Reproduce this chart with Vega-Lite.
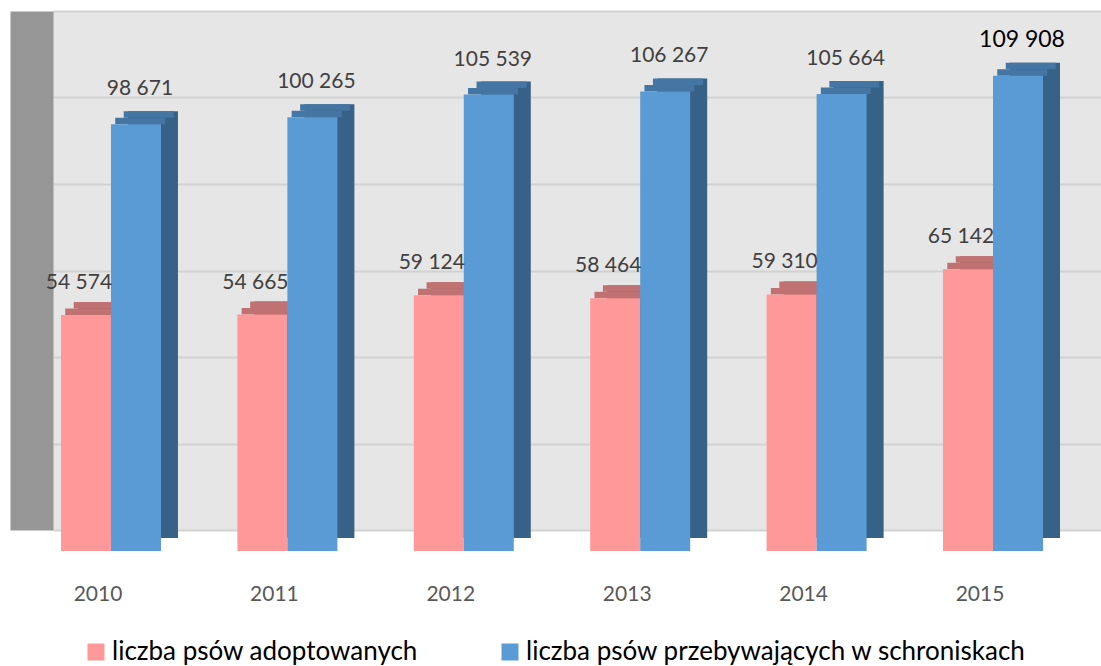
{
  "$schema": "https://vega.github.io/schema/vega-lite/v6.json",
  "width": 1048,
  "height": 519,
  "autosize": {"type": "none"},
  "padding": {"left": 53, "top": 11, "right": 0, "bottom": 136},
  "background": "white",
  "config": {
    "locale": {"number": {"decimal": ",", "thousands": " ", "grouping": [3], "currency": ["", " zł"]}},
    "view": {"fill": "#e6e6e6", "stroke": null},
    "font": "Lato"
  },
  "data": {
    "values": [
      {"year": "2010", "series": "liczba psów adoptowanych", "value": 54574},
      {"year": "2010", "series": "liczba psów przebywających w schroniskach", "value": 98671},
      {"year": "2011", "series": "liczba psów adoptowanych", "value": 54665},
      {"year": "2011", "series": "liczba psów przebywających w schroniskach", "value": 100265},
      {"year": "2012", "series": "liczba psów adoptowanych", "value": 59124},
      {"year": "2012", "series": "liczba psów przebywających w schroniskach", "value": 105539},
      {"year": "2013", "series": "liczba psów adoptowanych", "value": 58464},
      {"year": "2013", "series": "liczba psów przebywających w schroniskach", "value": 106267},
      {"year": "2014", "series": "liczba psów adoptowanych", "value": 59310},
      {"year": "2014", "series": "liczba psów przebywających w schroniskach", "value": 105664},
      {"year": "2015", "series": "liczba psów adoptowanych", "value": 65142},
      {"year": "2015", "series": "liczba psów przebywających w schroniskach", "value": 109908}
    ]
  },
  "encoding": {
    "x": {
      "field": "year", "type": "nominal",
      "scale": {"paddingInner": 0.4331, "paddingOuter": 0.187, "align": 0.121},
      "axis": {"title": null, "domain": false, "ticks": false, "grid": false, "labelAngle": 0, "labelFontSize": 21, "labelColor": "#595959", "labelPadding": 70, "labelBaseline": "alphabetic", "labelOffset": -13}
    },
    "y": {
      "field": "value", "type": "quantitative",
      "scale": {"domain": [0, 120000], "nice": false},
      "axis": {"title": null, "labels": false, "ticks": false, "values": [0, 20000, 40000, 60000, 80000, 100000, 120000], "grid": true, "gridColor": "#d2d2d2", "gridWidth": 2, "domain": true, "domainColor": "#969696", "domainWidth": 43, "offset": 21.5}
    }
  },
  "resolve": {"scale": {"xOffset": "independent"}},
  "layer": [
    {
      "mark": {"type": "bar", "yOffset": 8, "y2Offset": 14},
      "encoding": {
        "xOffset": {"field": "series", "type": "nominal", "sort": ["liczba psów adoptowanych", "liczba psów przebywających w schroniskach"], "scale": {"range": [17, 117], "paddingInner": 0, "paddingOuter": 0}},
        "color": {"condition": {"test": "datum.series === 'liczba psów adoptowanych'", "value": "#a05c5c"}, "value": "#386187"}
      }
    },
    {
      "mark": {"type": "bar", "yOffset": 8, "y2Offset": 14.5},
      "encoding": {
        "xOffset": {"field": "series", "type": "nominal", "sort": ["liczba psów adoptowanych", "liczba psów przebywających w schroniskach"], "scale": {"range": [12.75, 112.75], "paddingInner": 0, "paddingOuter": 0}},
        "y2": {"field": "value"},
        "color": {"condition": {"test": "datum.series === 'liczba psów adoptowanych'", "value": "#c07272"}, "value": "#4475a3"}
      }
    },
    {
      "mark": {"type": "bar", "yOffset": 14.5, "y2Offset": 21},
      "encoding": {
        "xOffset": {"field": "series", "type": "nominal", "sort": ["liczba psów adoptowanych", "liczba psów przebywających w schroniskach"], "scale": {"range": [4.25, 104.25], "paddingInner": 0, "paddingOuter": 0}},
        "y2": {"field": "value"},
        "color": {"condition": {"test": "datum.series === 'liczba psów adoptowanych'", "value": "#c07272"}, "value": "#4475a3"}
      }
    },
    {
      "mark": {"type": "bar", "yOffset": 21, "y2Offset": 21},
      "encoding": {
        "xOffset": {"field": "series", "type": "nominal", "sort": ["liczba psów adoptowanych", "liczba psów przebywających w schroniskach"], "scale": {"range": [0, 100], "paddingInner": 0, "paddingOuter": 0}},
        "color": {
          "field": "series", "type": "nominal",
          "sort": ["liczba psów adoptowanych", "liczba psów przebywających w schroniskach"],
          "scale": {"domain": ["liczba psów adoptowanych", "liczba psów przebywających w schroniskach"], "range": ["#ff9999", "#5b9bd5"]},
          "legend": {"orient": "none", "legendX": 30, "legendY": 628, "direction": "horizontal", "title": null, "symbolType": "square", "symbolSize": 289, "symbolStrokeWidth": 0, "symbolOpacity": 1, "labelFontSize": 26, "labelColor": "#000000", "labelOffset": 3, "columnPadding": 79, "labelLimit": 700, "padding": 0}
        }
      }
    },
    {
      "transform": [{"filter": "datum.series === 'liczba psów adoptowanych'"}],
      "mark": {"type": "text", "baseline": "alphabetic", "dx": -7, "dy": -5, "fontSize": 21, "color": "#404040"},
      "encoding": {
        "xOffset": {"field": "series", "type": "nominal", "sort": ["liczba psów adoptowanych", "liczba psów przebywających w schroniskach"], "scale": {"type": "band", "domain": ["liczba psów adoptowanych", "liczba psów przebywających w schroniskach"], "range": [0, 100], "paddingInner": 0, "paddingOuter": 0}},
        "text": {"field": "value", "type": "quantitative", "format": ",d"}
      }
    },
    {
      "transform": [{"filter": "datum.series !== 'liczba psów adoptowanych'"}],
      "mark": {"type": "text", "baseline": "alphabetic", "dx": 4, "dy": -8},
      "encoding": {
        "xOffset": {"field": "series", "type": "nominal", "sort": ["liczba psów adoptowanych", "liczba psów przebywających w schroniskach"], "scale": {"type": "band", "domain": ["liczba psów adoptowanych", "liczba psów przebywających w schroniskach"], "range": [0, 100], "paddingInner": 0, "paddingOuter": 0}},
        "text": {"field": "value", "type": "quantitative", "format": ",d"},
        "size": {"condition": {"test": "datum.value > 109000", "value": 23}, "value": 21},
        "color": {"condition": {"test": "datum.value > 109000", "value": "#000000"}, "value": "#404040"}
      }
    }
  ]
}
